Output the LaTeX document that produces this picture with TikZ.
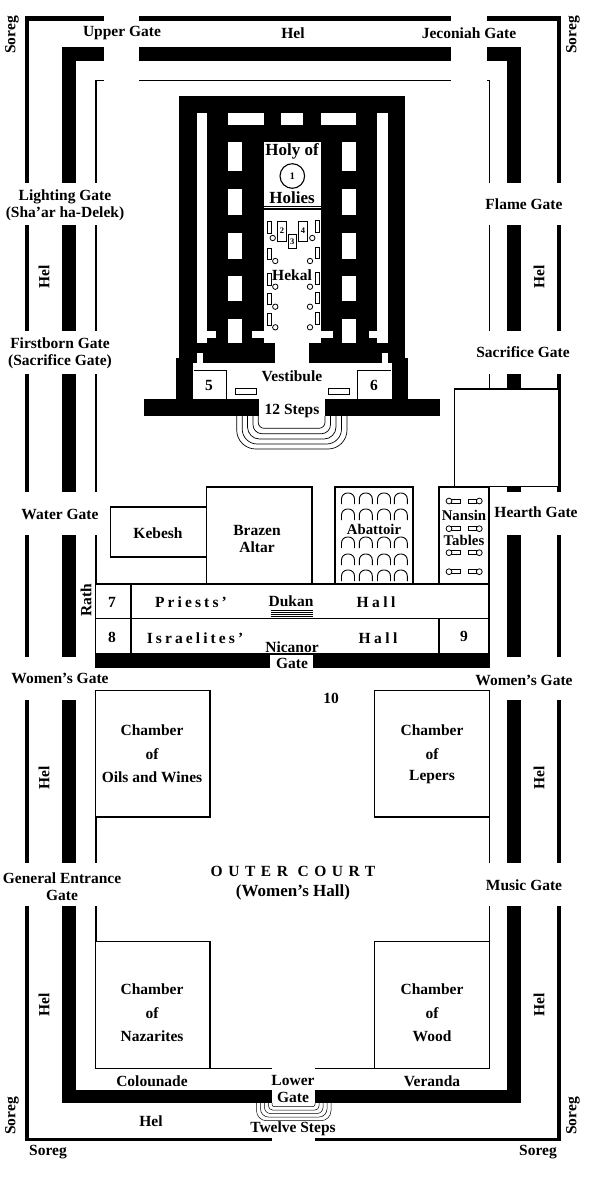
\documentclass[tikz,border=0pt]{standalone}
\usepackage{fontspec}
\setmainfont{Liberation Serif}
\tikzset{
  lab/.style={font=\fontsize{15.5}{17}\selectfont\bfseries, align=center, inner sep=0pt, text=black},
  big/.style={lab, font=\fontsize{17}{19}\selectfont\bfseries},
  tight/.style={lab, font=\fontsize{14.8}{17}\selectfont\bfseries},
  small/.style={font=\fontsize{8.5}{10}\selectfont\bfseries, align=center, inner sep=0pt},
  rot/.style={lab, rotate=90},
  box/.style={draw=black, line width=1.3pt, fill=white},
  thin line/.style={draw=black, line width=1.3pt},
  bar/.style={fill=black},
  tiny box/.style={draw=black, line width=0.8pt, fill=white},
  stepline/.style={draw=black, line width=0.7pt, rounded corners=#1},
  archline/.style={draw=black, line width=0.9pt, rounded corners=6pt},
}
\newcommand{\barrect}[4]{\fill[black] (#1,#2) rectangle (#3,#4);}
\newcommand{\whiterect}[4]{\fill[white] (#1,#2) rectangle (#3,#4);}
\newcommand{\tablepair}[1]{%
  \draw[tiny box] (451.5,{#1-2}) rectangle (460,{#1+2});
  \draw[tiny box] (449,#1) circle[radius=2.9pt];
  \draw[tiny box] (468,{#1-2}) rectangle (476.5,{#1+2});
  \draw[tiny box] (479.3,#1) circle[radius=2.9pt];}
\newcommand{\archrow}[2]{%
  \foreach \ax in {348,365.8,384,400.8}{\draw[archline] ({\ax-6.5},#2) -- ({\ax-6.5},#1) -- ({\ax+6.5},#1) -- ({\ax+6.5},#2);}}
\begin{document}
\begin{tikzpicture}[x=1pt,y=-1pt]
\useasboundingbox (0,0) rectangle (600,1179);
\fill[white] (0,0) rectangle (600,1179);
% outer wall (Soreg)
\foreach \a/\b in {17/183,225/331,374/492,535/657,700/863,906/1141}{
  \barrect{24.5}{\a}{28.5}{\b}
  \barrect{556.5}{\a}{560.5}{\b}}
\barrect{24.5}{16}{103.5}{20.5}
\barrect{139}{16}{451}{20.5}
\barrect{486.5}{16}{560.5}{20.5}
\barrect{24.5}{1137.5}{272}{1141}
\barrect{314.5}{1137.5}{560.5}{1141}
% thick wall
\foreach \a/\b in {47/183,225/331,374/492,535/657,700/863,906/1103}{
  \barrect{62}{\a}{76}{\b}
  \barrect{507}{\a}{521}{\b}}
\barrect{62}{47}{103.5}{61}
\barrect{139}{47}{451}{61}
\barrect{486.5}{47}{521}{61}
\barrect{62}{1090}{272}{1103}
\barrect{314.5}{1090}{521}{1103}
% thin wall
\foreach \a/\b in {80/183,225/331,374/492,535/654,690/863,906/1069}{
  \barrect{95.2}{\a}{96.6}{\b}
  \barrect{488.5}{\a}{490}{\b}}
\barrect{95.2}{80}{103.5}{81.4}
\barrect{139}{80}{451}{81.4}
\barrect{486.5}{80}{490}{81.4}
\barrect{95.2}{1067.8}{272}{1069.2}
\barrect{314.5}{1067.8}{490}{1069.2}
% square at right
\draw[box] (454.7,389) rectangle (558.7,486.7);
% temple
\fill[black] (179,96) rectangle (405,358);
\fill[black] (176,358) rectangle (408,399);
\fill[black] (144,399) rectangle (440,416);
\whiterect{196.7}{113}{207.3}{343}
\whiterect{207}{331}{216}{338}
\whiterect{376.5}{113}{387.5}{343}
\whiterect{369}{331}{377}{338}
\foreach \a/\b in {228/264,281/303,321/356}{\whiterect{\a}{113}{\b}{124.7}}
\foreach \a/\b in {142/171,189/215,233/259,276/301,319/343}{
  \whiterect{228}{\a}{242}{\b}
  \whiterect{342}{\a}{356}{\b}}
\whiterect{264}{142}{321}{205.5}
\whiterect{264}{207}{321}{208}
\whiterect{264}{210}{321}{343}
\whiterect{252}{331}{333}{338}
% vestibule
\whiterect{275}{343}{309}{399}
\whiterect{193}{362.7}{392}{399}
\whiterect{196.7}{353}{203}{363}
\whiterect{381.7}{353}{388}{363}
\whiterect{259}{399}{325}{416}
\draw[box] (193.5,370.5) -- (226.5,370.5) -- (226.5,399);
\draw[box] (391,370.5) -- (357.5,370.5) -- (357.5,399);
\draw[tiny box] (235,388.7) rectangle (256.7,394);
\draw[tiny box] (328,388.7) rectangle (349.5,394);
% steps upper
\draw[stepline=19pt] (236.7,416) -- (236.7,449) -- (347,449) -- (347,416);
\draw[stepline=15pt] (242.2,416) -- (242.2,444) -- (341.5,444) -- (341.5,416);
\draw[stepline=12pt] (247.5,416) -- (247.5,439) -- (336,439) -- (336,416);
\draw[stepline=9pt] (253,416) -- (253,433.7) -- (330.5,433.7) -- (330.5,416);
\draw[stepline=6pt] (258.2,416) -- (258.2,428.3) -- (325,428.3) -- (325,416);
% steps lower
\draw[stepline=10pt,line width=0.5pt] (256.5,1103) -- (256.5,1120.7) -- (331,1120.7) -- (331,1103);
\draw[stepline=8pt,line width=0.5pt] (260.5,1103) -- (260.5,1117) -- (327,1117) -- (327,1103);
\draw[stepline=6pt,line width=0.5pt] (264.5,1103) -- (264.5,1113.5) -- (323,1113.5) -- (323,1103);
\draw[stepline=4pt,line width=0.5pt] (268.5,1103) -- (268.5,1110) -- (319,1110) -- (319,1103);
\draw[stepline=2pt,line width=0.5pt] (272,1103) -- (272,1106.5) -- (315,1106.5) -- (315,1103);
% Hekal furniture
\foreach \a/\b in {221/233,248/259,273/285,293/304,313/325}{
  \draw[tiny box] (267,\a) rectangle (271,\b);
  \draw[tiny box] (315,{\a-0.5}) rectangle (319,{\b-0.5});}
\foreach \y in {261,286.7,306.7,327.3}{
  \draw[tiny box] (275.3,\y) circle[radius=2.7pt];
  \draw[tiny box] (310,\y) circle[radius=2.7pt];}
\draw[tiny box] (272.7,238) circle[radius=2.7pt];
\draw[tiny box] (312.3,238) circle[radius=2.7pt];
\node[tiny box, minimum width=9.4pt, minimum height=20pt, small, inner sep=0pt] (b2) at (282,231) {2};
\node[tiny box, minimum width=8.6pt, minimum height=20pt, small, inner sep=0pt] (b4) at (303,231) {4};
\node[tiny box, minimum width=8.3pt, minimum height=14.7pt, small, inner sep=0pt] (b3) at (292.2,241.3) {3};
\node[circle, draw=black, line width=1.1pt, minimum size=24.6pt, inner sep=0pt, small, font=\fontsize{10}{12}\selectfont\bfseries] (c1) at (292.3,176) {1};
% altar court
\draw[box] (110.7,507) rectangle (206.7,557);
\draw[box] (206.7,487) rectangle (312,584);
\draw[box] (335,487) rectangle (413,584);
\draw[box] (439,487) rectangle (488.9,584);
\archrow{493}{504}
\archrow{509}{520}
\archrow{537}{548}
\archrow{554}{565}
\archrow{570}{581}
\tablepair{501}
\tablepair{528.7}
\tablepair{552.7}
\tablepair{571.7}
\draw[box] (95.7,584) rectangle (488.9,618.7);
\draw[box] (95.7,618.7) rectangle (488.9,654);
\draw[thin line] (131,584) -- (131,654);
\draw[thin line] (439,618.7) -- (439,654);
\barrect{95.2}{654}{270}{668}
\barrect{313}{654}{490}{668}
\foreach \y in {610.5,612.5,614.5,616.5}{\draw[black,line width=0.8pt] (270.7,\y) -- (312.7,\y);}
% chambers
\draw[box] (95.7,690.7) rectangle (210,817);
\draw[box] (374.7,690.7) rectangle (489.2,817);
\draw[box] (95.7,941.7) rectangle (210,1068.5);
\draw[box] (374.7,941.7) rectangle (489.2,1068.5);
% labels
\node[lab] (upper) at (122,33) {Upper Gate};
\node[lab] (heltop) at (293,33) {Hel};
\node[lab] (jeconiah) at (469,33) {Jeconiah Gate};
\node[rot] (soregtl) at (12,35) {Soreg};
\node[rot] (soregtr) at (573,35) {Soreg};
\node[rot] (soregbl) at (12,1116) {Soreg};
\node[rot] (soregbr) at (573,1116) {Soreg};
\node[lab] (soregl) at (48,1152) {Soreg};
\node[lab] (soregr) at (538,1152) {Soreg};
\node[lab] (lighting) at (65,205.5) {Lighting Gate\\(Sha’ar ha-Delek)};
\node[rot] (hel1) at (44,277) {Hel};
\node[lab] (firstborn) at (60,353.5) {Firstborn Gate\\(Sacrifice Gate)};
\node[lab] (water) at (60,514) {Water Gate};
\node[rot] (rath) at (86,600) {Rath};
\node[lab] (womenl) at (60,678) {Women’s Gate};
\node[rot] (hel2) at (44,778) {Hel};
\node[lab] (general) at (62,886.5) {General Entrance\\Gate};
\node[rot] (hel3) at (44,1005) {Hel};
\node[lab] (colonnade) at (152,1081) {Colounade};
\node[lab] (lower) at (293,1080) {Lower};
\node[lab] (lowergate) at (293,1097) {Gate};
\node[lab] (twelve) at (293,1129) {Twelve Steps};
\node[lab] (helbot) at (151,1121) {Hel};
\node[lab] (veranda) at (432,1081) {Veranda};
\node[lab] (flame) at (524,204) {Flame Gate};
\node[rot] (hel4) at (539,277) {Hel};
\node[lab] (sacrifice) at (523,352) {Sacrifice Gate};
\node[lab] (hearth) at (536,512) {Hearth Gate};
\node[lab] (womenr) at (524,680) {Women’s Gate};
\node[rot] (hel5) at (539,778) {Hel};
\node[lab] (music) at (524,885) {Music Gate};
\node[rot] (hel6) at (539,1005) {Hel};
\node[big] (holyof) at (292,151) {Holy of};
\node[big] (holies) at (292,198) {Holies};
\node[lab] (hekal) at (292,275) {Hekal};
\node[lab] (vestibule) at (292,376) {Vestibule};
\node[lab] (steps12) at (292,411) {12 Steps};
\node[lab] (n5) at (209,385) {5};
\node[lab] (n6) at (374,385) {6};
\node[lab] (kebesh) at (158,533) {Kebesh};
\node[lab] (brazen) at (257,538.5) {Brazen\\Altar};
\node[tight] (abattoir) at (374,529) {Abattoir};
\node[tight] (nansin) at (464,515) {Nansin};
\node[tight] (tables) at (464,540) {Tables};
\node[lab] (n7) at (112,602) {7};
\node[lab] (n8) at (112,637) {8};
\node[lab] (priests) at (191,602) {\addfontfeatures{LetterSpace=20}Priests’};
\node[lab] (dukan) at (291,601) {Dukan};
\node[lab] (hall1) at (376,602) {\addfontfeatures{LetterSpace=22}Hall};
\node[lab] (israelites) at (195,638) {\addfontfeatures{LetterSpace=20}Israelites’};
\node[lab] (hall2) at (378,638) {\addfontfeatures{LetterSpace=22}Hall};
\node[lab] (n9) at (464,636) {9};
\node[lab] (nicanor) at (292,647) {Nicanor};
\node[lab] (nicanorgate) at (292,663) {Gate};
\node[lab] (n10) at (331,698) {10};
\node[lab] (oils1) at (152,730) {Chamber};
\node[lab] (oils2) at (152,754) {of};
\node[lab] (oils3) at (152,777) {Oils and Wines};
\node[lab] (lep1) at (432,730) {Chamber};
\node[lab] (lep2) at (432,754) {of};
\node[lab] (lep3) at (432,777) {Lepers};
\node[lab] (outer) at (293,871) {\addfontfeatures{LetterSpace=36}OUTER COURT};
\node[big] (womenhall) at (293,892) {(Women’s Hall)};
\node[lab] (naz1) at (152,989) {Chamber};
\node[lab] (naz2) at (152,1013) {of};
\node[lab] (naz3) at (152,1036) {Nazarites};
\node[lab] (wood1) at (432,989) {Chamber};
\node[lab] (wood2) at (432,1013) {of};
\node[lab] (wood3) at (432,1036) {Wood};
\end{tikzpicture}
\end{document}
